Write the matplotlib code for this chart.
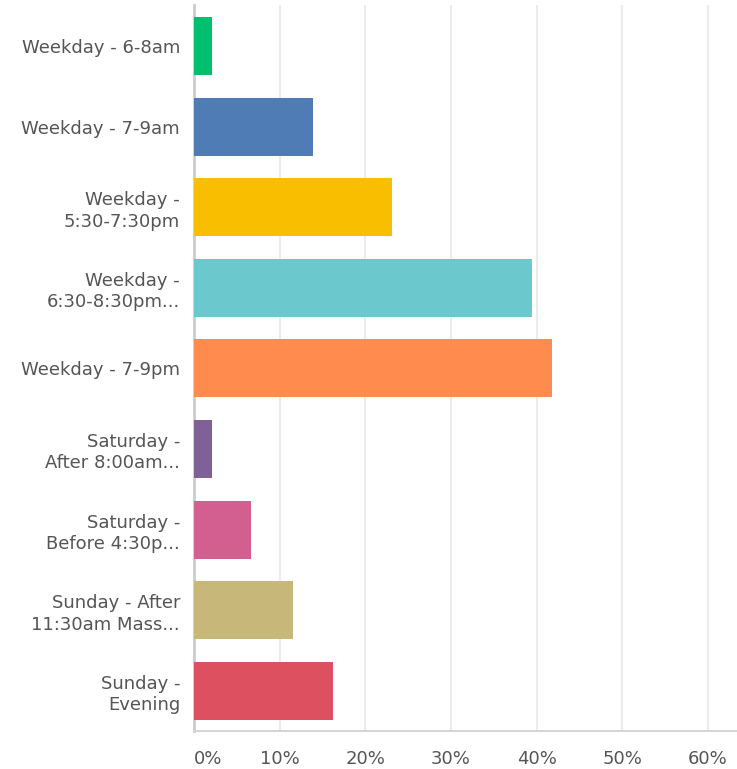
import matplotlib
matplotlib.use("Agg")
import matplotlib.pyplot as plt

categories = ["Weekday - 6-8am", "Weekday - 7-9am", "Weekday -\n5:30-7:30pm",
              "Weekday -\n6:30-8:30pm...", "Weekday - 7-9pm", "Saturday -\nAfter 8:00am...",
              "Saturday -\nBefore 4:30p...", "Sunday - After\n11:30am Mass...", "Sunday -\nEvening"]
percents = [2.1, 13.9, 23.1, 39.5, 41.8, 2.1, 6.7, 11.6, 16.2]
bar_colors = ["#00bf6f", "#507cb6", "#f9be00", "#6bc8cd", "#ff8b4f",
              "#7f6197", "#d25f90", "#c7b879", "#dc5060"]
xticks = [0, 10, 20, 30, 40, 50, 60]
xtick_labels = ["0%", "10%", "20%", "30%", "40%", "50%", "60%"]

plt.rcParams['font.family'] = ['DejaVu Sans']

fig = plt.figure(figsize=(7.37, 7.69), dpi=100)
ax = fig.add_axes([0.2632, 0.0494, 0.7368, 0.9441])

ypos = list(range(len(categories)))
ax.barh(ypos, percents, height=0.72, color=bar_colors, zorder=3)

ax.set_xlim(0, 63.4)
ax.set_ylim(8.5, -0.51)
ax.set_xticks(xticks)
ax.set_xticklabels(xtick_labels)
ax.set_yticks(ypos)
ax.set_yticklabels(categories, linespacing=1.25)
ax.get_xticklabels()[0].set_ha("left")

ax.tick_params(axis="x", length=0, pad=14, labelsize=13, labelcolor="#555555")
ax.tick_params(axis="y", length=0, pad=10, labelsize=13, labelcolor="#555555")
ax.grid(axis="x", color="#ebebeb", linewidth=1.5, zorder=0)

for side in ["top", "right"]:
    ax.spines[side].set_visible(False)
ax.spines["left"].set_color("#cccccc")
ax.spines["left"].set_linewidth(2)
ax.spines["bottom"].set_color("#d5d5d5")
ax.spines["bottom"].set_linewidth(1.5)

fig.savefig("out.png", dpi=100)
